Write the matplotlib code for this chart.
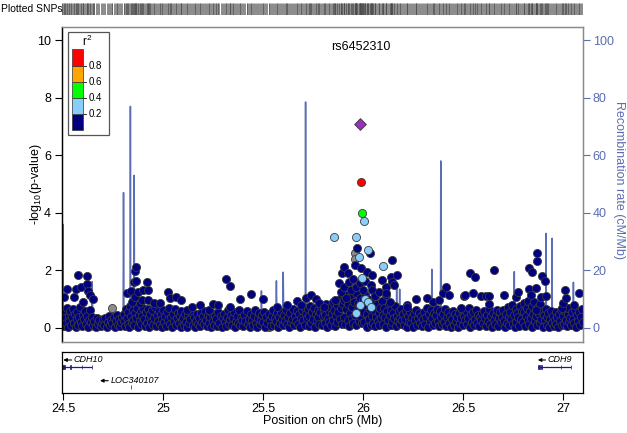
import numpy as np
import matplotlib
matplotlib.use('Agg')
import matplotlib.pyplot as plt
from matplotlib.patches import Rectangle

plt.rcParams['font.family'] = ['Liberation Sans', 'DejaVu Sans']
plt.rcParams['mathtext.default'] = 'regular'

# ---- data (positions in Mb, -log10 p) ----
band_pos = [
    24.489, 24.492, 24.495, 24.498, 24.502, 24.506, 24.509, 24.513, 24.517, 24.521,
    24.526, 24.530, 24.534, 24.539, 24.543, 24.547, 24.552, 24.556, 24.561, 24.566,
    24.570, 24.575, 24.580, 24.584, 24.589, 24.594, 24.598,
    24.603, 24.607, 24.612, 24.617, 24.621, 24.626, 24.631, 24.636, 24.641, 24.648,
    24.655, 24.661, 24.668, 24.674, 24.680, 24.686, 24.692, 24.698,
    24.704, 24.710, 24.716, 24.721, 24.727, 24.733, 24.738, 24.745, 24.751, 24.757,
    24.762, 24.768, 24.774, 24.779, 24.785, 24.790, 24.795,
    24.801, 24.805, 24.809, 24.813, 24.817, 24.821, 24.825, 24.829, 24.833, 24.837,
    24.842, 24.846, 24.850, 24.855, 24.859, 24.863, 24.868, 24.872, 24.877, 24.881,
    24.886, 24.890, 24.895, 24.899,
    24.903, 24.908, 24.912, 24.917, 24.921, 24.926, 24.930, 24.935, 24.940, 24.944,
    24.949, 24.953, 24.958, 24.963, 24.967, 24.972, 24.977, 24.981, 24.986, 24.991, 24.995,
    25.000, 25.005, 25.009, 25.014, 25.019, 25.024, 25.028, 25.033, 25.038, 25.043,
    25.047, 25.052, 25.057, 25.062, 25.066, 25.071, 25.076, 25.081, 25.086, 25.090, 25.095,
    25.100, 25.105, 25.110, 25.115, 25.120, 25.125, 25.130, 25.135, 25.140, 25.146,
    25.151, 25.156, 25.161, 25.167, 25.172, 25.177, 25.183, 25.188, 25.193, 25.198,
    25.203, 25.208, 25.213, 25.218, 25.223, 25.229, 25.234, 25.239, 25.245, 25.250,
    25.255, 25.260, 25.266, 25.271, 25.276, 25.281, 25.287, 25.292, 25.297,
    25.302, 25.307, 25.312, 25.318, 25.323, 25.328, 25.333, 25.338, 25.344, 25.349,
    25.354, 25.359, 25.364, 25.370, 25.375, 25.380, 25.385, 25.391, 25.396,
    25.401, 25.406, 25.411, 25.417, 25.422, 25.427, 25.432, 25.437, 25.443, 25.448,
    25.453, 25.458, 25.464, 25.469, 25.474, 25.479, 25.485, 25.490, 25.495,
    25.500, 25.506, 25.511, 25.516, 25.521, 25.527, 25.532, 25.537, 25.542, 25.548,
    25.553, 25.558, 25.563, 25.569, 25.574, 25.579, 25.584, 25.590, 25.595,
    25.600, 25.605, 25.610, 25.615, 25.620, 25.625, 25.630, 25.635, 25.640, 25.645,
    25.650, 25.655, 25.660, 25.665, 25.670, 25.675, 25.680, 25.685, 25.690, 25.695,
    25.700, 25.704, 25.709, 25.713, 25.718, 25.722, 25.727, 25.731, 25.736, 25.740,
    25.745, 25.749, 25.754, 25.758, 25.763, 25.767, 25.772, 25.776, 25.781, 25.785,
    25.790, 25.794, 25.799,
    25.803, 25.807, 25.811, 25.815, 25.819, 25.823, 25.827, 25.831, 25.835, 25.839,
    25.843, 25.847, 25.851, 25.855, 25.859, 25.863, 25.867, 25.871, 25.875, 25.879,
    25.883, 25.887, 25.891, 25.895, 25.899,
    25.902, 25.906, 25.910, 25.914, 25.918, 25.922, 25.926, 25.930, 25.934, 25.938,
    25.942, 25.946, 25.950, 25.954, 25.958, 25.962, 25.966, 25.970, 25.974, 25.978,
    25.982, 25.986, 25.990, 25.994, 25.998,
    26.002, 26.006, 26.010, 26.014, 26.018, 26.022, 26.026, 26.030, 26.034, 26.038,
    26.042, 26.046, 26.050, 26.054, 26.058, 26.062, 26.066, 26.070, 26.074, 26.078,
    26.082, 26.086, 26.090, 26.094, 26.098,
    26.102, 26.106, 26.111, 26.115, 26.120, 26.124, 26.129, 26.133, 26.138, 26.142,
    26.147, 26.151, 26.156, 26.160, 26.165, 26.169, 26.174, 26.178, 26.183, 26.187,
    26.192, 26.196,
    26.201, 26.206, 26.211, 26.216, 26.221, 26.226, 26.231, 26.236, 26.241, 26.246,
    26.251, 26.256, 26.261, 26.266, 26.271, 26.276, 26.281, 26.286, 26.291, 26.296,
    26.301, 26.306, 26.311, 26.316, 26.321, 26.326, 26.331, 26.336, 26.341, 26.346,
    26.351, 26.356, 26.361, 26.366, 26.371, 26.376, 26.381, 26.386, 26.391, 26.396,
    26.401, 26.406, 26.411, 26.416, 26.421, 26.426, 26.431, 26.436, 26.441, 26.446,
    26.451, 26.456, 26.461, 26.466, 26.471, 26.476, 26.481, 26.486, 26.491, 26.496,
    26.501, 26.506, 26.511, 26.516, 26.521, 26.526, 26.531, 26.536, 26.541, 26.546,
    26.551, 26.556, 26.561, 26.566, 26.571, 26.576, 26.581, 26.586, 26.591, 26.596,
    26.601, 26.606, 26.611, 26.616, 26.621, 26.626, 26.631, 26.636, 26.641, 26.646,
    26.651, 26.656, 26.661, 26.666, 26.671, 26.676, 26.681, 26.686, 26.691, 26.696,
    26.701, 26.705, 26.710, 26.714, 26.719, 26.723, 26.728, 26.732, 26.737, 26.741,
    26.746, 26.750, 26.755, 26.759, 26.764, 26.768, 26.773, 26.777, 26.782, 26.786,
    26.791, 26.795,
    26.800, 26.804, 26.808, 26.812, 26.816, 26.820, 26.824, 26.828, 26.832, 26.836,
    26.840, 26.844, 26.848, 26.852, 26.856, 26.860, 26.864, 26.868, 26.872, 26.876,
    26.880, 26.884, 26.888, 26.892, 26.896,
    26.901, 26.905, 26.910, 26.914, 26.919, 26.923, 26.928, 26.932, 26.937, 26.941,
    26.946, 26.950, 26.955, 26.959, 26.964, 26.968, 26.973, 26.977, 26.982, 26.986,
    26.991, 26.995,
    27.000, 27.005, 27.009, 27.014, 27.019, 27.024, 27.028, 27.033, 27.038, 27.043,
    27.047, 27.052, 27.057, 27.062, 27.066, 27.071, 27.076, 27.081, 27.086, 27.090,
    27.095, 27.100,
]
band_logp = [
    0.45, 0.12, 0.62, 0.28, 0.05, 0.51, 0.33, 0.18, 0.70, 0.02,
    0.41, 0.24, 0.57, 0.09, 0.36, 0.66, 0.15, 0.47, 0.03, 0.29,
    0.55, 0.11, 0.38, 0.72, 0.20, 0.06, 0.44,
    0.31, 0.58, 0.14, 0.42, 0.04, 0.26, 0.63, 0.19, 0.37, 0.08,
    0.22, 0.01, 0.34, 0.13, 0.27, 0.05, 0.18, 0.30,
    0.10, 0.32, 0.02, 0.21, 0.40, 0.08, 0.27, 0.15, 0.36, 0.04,
    0.23, 0.44, 0.11, 0.30, 0.06, 0.19, 0.38,
    0.22, 0.48, 0.07, 0.65, 0.33, 0.14, 0.56, 0.02, 0.74, 0.39,
    0.18, 0.61, 0.27, 0.09, 0.52, 0.35, 0.68, 0.04, 0.45, 0.24,
    0.58, 0.12, 0.41, 0.70,
    0.29, 0.05, 0.53, 0.17, 0.66, 0.38, 0.01, 0.46, 0.21, 0.60,
    0.11, 0.34, 0.72, 0.07, 0.43, 0.25, 0.57, 0.14, 0.49, 0.03, 0.31,
    0.62, 0.19, 0.40, 0.06, 0.55, 0.28, 0.70, 0.13, 0.37, 0.02,
    0.47, 0.23, 0.64, 0.09, 0.33, 0.51, 0.16, 0.42, 0.04, 0.58, 0.26,
    0.35, 0.08, 0.49, 0.21, 0.03, 0.43, 0.15, 0.30, 0.56, 0.10,
    0.38, 0.01, 0.25, 0.47, 0.12, 0.34, 0.05, 0.52, 0.20, 0.40,
    0.14, 0.59, 0.27, 0.06, 0.44, 0.18, 0.36, 0.02, 0.50, 0.23,
    0.11, 0.41, 0.29, 0.07, 0.54, 0.16, 0.39, 0.04, 0.32,
    0.48, 0.21, 0.05, 0.37, 0.60, 0.13, 0.29, 0.45, 0.08, 0.33,
    0.55, 0.02, 0.24, 0.42, 0.17, 0.62, 0.10, 0.35, 0.27,
    0.06, 0.43, 0.22, 0.57, 0.14, 0.31, 0.01, 0.48, 0.26, 0.09,
    0.39, 0.63, 0.18, 0.04, 0.35, 0.52, 0.12, 0.28, 0.45,
    0.20, 0.56, 0.03, 0.37, 0.15, 0.47, 0.28, 0.07, 0.41, 0.60,
    0.11, 0.33, 0.23, 0.50, 0.02, 0.38, 0.17, 0.54, 0.30,
    0.09, 0.44, 0.25, 0.61, 0.13, 0.36, 0.04, 0.52, 0.19, 0.31,
    0.66, 0.08, 0.40, 0.22, 0.57, 0.14, 0.47, 0.02, 0.35, 0.60,
    0.27, 0.71, 0.11, 0.49, 0.33, 0.64, 0.05, 0.42, 0.76, 0.18,
    0.55, 0.29, 0.68, 0.02, 0.46, 0.22, 0.60, 0.37, 0.12, 0.53,
    0.74, 0.08, 0.40,
    0.63, 0.16, 0.45, 0.81, 0.03, 0.34, 0.58, 0.21, 0.72, 0.10,
    0.49, 0.88, 0.27, 0.61, 0.06, 0.40, 0.79, 0.19, 0.54, 0.95,
    0.31, 0.67, 1.02, 0.13, 0.84,
    0.38, 0.97, 0.12, 0.64, 1.15, 0.26, 0.81, 0.05, 0.52, 1.08,
    0.33, 0.73, 0.18, 0.91, 0.44, 1.21, 0.09, 0.59, 0.86, 0.24,
    1.05, 0.40, 0.69, 0.15, 0.95,
    0.55, 0.21, 1.12, 0.78, 0.03, 0.47, 1.01, 0.30, 0.66, 0.11,
    0.89, 0.42, 0.17, 0.73, 0.58, 0.06, 0.36, 0.84, 0.23, 0.51,
    0.10, 0.68, 0.32, 0.92, 0.45,
    0.14, 0.70, 0.37, 0.02, 0.59, 0.26, 0.81, 0.45, 0.08, 0.63,
    0.19, 0.50, 0.33, 0.74, 0.05, 0.41, 0.22, 0.57, 0.12, 0.35,
    0.66, 0.28,
    0.48, 0.10, 0.31, 0.58, 0.04, 0.40, 0.21, 0.53, 0.15, 0.36,
    0.01, 0.46, 0.27, 0.62, 0.09, 0.33, 0.51, 0.18, 0.42, 0.06,
    0.29, 0.55, 0.13, 0.38, 0.70, 0.03, 0.47, 0.22, 0.61, 0.34,
    0.08, 0.52, 0.17, 0.43, 0.66, 0.25, 0.05, 0.58, 0.36, 0.12,
    0.49, 0.20, 0.64, 0.07, 0.37, 0.55, 0.15, 0.42, 0.02, 0.30,
    0.59, 0.11, 0.46, 0.24, 0.38, 0.04, 0.52, 0.17, 0.33, 0.61,
    0.08, 0.41, 0.26, 0.57, 0.13, 0.35, 0.68, 0.03, 0.47, 0.21,
    0.54, 0.10, 0.31, 0.62, 0.18, 0.44, 0.06, 0.38, 0.27, 0.50,
    0.16, 0.59, 0.34, 0.05, 0.45, 0.23, 0.66, 0.12, 0.39, 0.01,
    0.51, 0.28, 0.14, 0.43, 0.60, 0.07, 0.32, 0.55, 0.20, 0.37,
    0.62, 0.25, 0.04, 0.48, 0.17, 0.71, 0.36, 0.09, 0.55, 0.29,
    0.80, 0.13, 0.44, 0.02, 0.66, 0.21, 0.52, 0.38, 0.07, 0.74,
    0.31, 0.58,
    0.19, 0.53, 0.85, 0.06, 0.41, 0.67, 0.27, 0.93, 0.12, 0.58,
    0.34, 0.76, 0.02, 0.49, 0.88, 0.22, 0.63, 0.39, 0.09, 0.71,
    0.46, 0.16, 0.82, 0.30, 0.57,
    0.04, 0.44, 0.26, 0.65, 0.11, 0.37, 0.52, 0.01, 0.31, 0.59,
    0.18, 0.42, 0.07, 0.28, 0.54, 0.14, 0.36, 0.03, 0.47, 0.22,
    0.61, 0.10,
    0.39, 0.13, 0.57, 0.27, 0.05, 0.48, 0.70, 0.20, 0.35, 0.09,
    0.53, 0.31, 0.16, 0.62, 0.02, 0.44, 0.24, 0.56, 0.11, 0.38,
    0.66, 0.19,
]

# r2 < 0.2 SNPs standing above the band
high_pos = [24.504, 24.518, 24.554, 24.561, 24.571, 24.588, 24.599, 24.616, 24.619, 24.624,
            24.634, 24.646, 24.819, 24.839, 24.842, 24.854, 24.859, 24.859, 24.864, 24.864,
            24.875, 24.884, 24.895, 24.900, 24.917, 24.922, 24.925, 24.951, 24.984, 25.023,
            25.031, 25.063, 25.086, 25.118, 25.143, 25.185, 25.227, 25.249, 25.272, 25.315,
            25.332, 25.335, 25.384, 25.437, 25.498, 25.570, 25.620, 25.667, 25.687, 25.712,
            25.740, 25.762, 25.778, 25.804, 25.859, 25.879, 25.887, 25.896, 25.904, 25.905,
            25.915, 25.926, 25.929, 25.940, 25.950, 25.957, 25.963, 25.971, 25.985, 25.991,
            26.000, 26.010, 26.021, 26.034, 26.038, 26.046, 26.046, 26.060, 26.080, 26.096,
            26.113, 26.113, 26.113, 26.133, 26.138, 26.143, 26.146, 26.155, 26.170, 26.219,
            26.222, 26.264, 26.322, 26.350, 26.380, 26.400, 26.417, 26.430, 26.489, 26.506,
            26.511, 26.535, 26.551, 26.558, 26.590, 26.615, 26.631, 26.631, 26.657, 26.707,
            26.765, 26.774, 26.832, 26.832, 26.840, 26.846, 26.866, 26.866, 26.869, 26.869,
            26.891, 26.896, 26.912, 26.916, 26.996, 27.003, 27.010, 27.016, 27.058, 27.083]
high_logp = [1.08, 1.34, 1.06, 1.34, 1.83, 1.40, 0.88, 1.51, 1.79, 1.29,
             1.14, 1.01, 1.20, 1.29, 0.90, 1.58, 1.98, 1.08, 2.10, 1.64,
             1.23, 0.85, 0.96, 1.31, 1.60, 1.31, 0.96, 0.85, 0.85, 1.25,
             1.02, 1.08, 0.96, 0.62, 0.71, 0.78, 0.62, 0.81, 0.78, 1.68,
             1.45, 0.73, 0.99, 1.17, 0.99, 0.73, 0.79, 0.92, 0.79, 1.02,
             1.14, 0.99, 0.85, 0.73, 0.96, 1.54, 1.25, 1.89, 2.12, 1.40,
             1.05, 1.89, 1.60, 1.30, 1.70, 2.18, 1.43, 2.76, 1.55, 2.07,
             1.30, 1.62, 1.95, 2.61, 1.49, 1.83, 1.31, 1.10, 1.25, 1.66,
             1.43, 1.14, 1.20, 0.90, 1.77, 2.35, 1.60, 1.49, 1.83, 0.79,
             0.73, 1.00, 1.02, 0.90, 0.96, 1.20, 1.40, 1.14, 0.67, 1.10,
             1.14, 1.89, 1.22, 1.77, 1.10, 1.10, 1.10, 0.82, 2.01, 1.14,
             1.08, 1.25, 2.07, 1.34, 1.14, 1.95, 1.37, 0.62, 2.61, 2.33,
             1.08, 1.80, 1.64, 1.10, 0.67, 0.85, 1.31, 1.02, 0.79, 1.22]

# SNPs without LD information (grey)
na_pos = [24.536, 24.598, 24.655, 24.742, 24.770, 24.812, 24.935, 25.040, 25.158, 25.262,
          25.349, 25.421, 25.530, 25.612, 25.736, 25.857, 25.957, 25.957, 26.050, 26.142,
          26.263, 26.356, 26.468, 26.572, 26.689, 26.804, 26.927, 27.041]
na_logp = [0.18, 0.33, 0.06, 0.67, 0.21, 0.40, 0.15, 0.28, 0.09, 0.35,
           0.12, 0.25, 0.04, 0.31, 0.20, 0.52, 2.61, 2.38, 0.26, 0.11,
           0.19, 0.30, 0.07, 0.23, 0.14, 0.37, 0.17, 0.08]

# 0.2 <= r2 < 0.4
lb_pos = [25.856, 25.964, 26.004, 26.024, 25.979, 26.101, 25.996, 26.011, 26.023, 25.983, 26.041, 25.963]
lb_logp = [3.17, 3.14, 3.72, 2.69, 2.47, 2.15, 1.72, 0.99, 0.90, 0.79, 0.73, 0.50]

green_pos, green_logp = [25.994], [4.00]
red_pos, red_logp = [25.989], [5.07]
lead_snp = 'rs6452310'
lead_pos, lead_logp = 25.983, 7.10

# recombination rate (cM/Mb)
rec_pos = [24.487, 24.493, 24.4965, 24.4985, 24.505, 24.52, 24.54, 24.56, 24.58, 24.60,
           24.62, 24.640, 24.6435, 24.647, 24.67, 24.70, 24.72, 24.745, 24.748, 24.751,
           24.77, 24.79, 24.7985, 24.8005, 24.803, 24.815, 24.8335, 24.835, 24.8365, 24.845,
           24.8525, 24.854, 24.8555, 24.87, 24.90, 24.95, 25.00, 25.05, 25.10, 25.15,
           25.20, 25.25, 25.30, 25.35, 25.40, 25.45, 25.488, 25.491, 25.494, 25.53,
           25.563, 25.566, 25.569, 25.597, 25.600, 25.603, 25.65, 25.70, 25.7105, 25.712,
           25.7135, 25.75, 25.80, 25.85, 25.90, 25.95, 26.00, 26.05, 26.10, 26.14,
           26.1665, 26.168, 26.1695, 26.175, 26.1815, 26.183, 26.1845, 26.22, 26.26, 26.30,
           26.3425, 26.344, 26.3455, 26.3875, 26.389, 26.3905, 26.43, 26.47, 26.52, 26.57,
           26.62, 26.67, 26.72, 26.7555, 26.757, 26.7585, 26.80, 26.85, 26.9145, 26.916,
           26.9175, 26.93, 26.9445, 26.946, 26.9475, 26.98, 27.02, 27.0515, 27.053, 27.0545,
           27.08, 27.101]
rec_rate = [3, 2, 36, 2, 1.5, 1, 2.5, 1, 3, 1.5,
            2, 1, 16, 1, 0.5, 0.4, 0.8, 1, 7, 1,
            0.6, 1.5, 2, 47, 3, 4, 5, 77, 5, 3,
            4, 53, 3, 1.5, 0.8, 0.5, 0.4, 0.6, 0.3, 0.5,
            0.4, 0.7, 0.5, 1.0, 0.6, 0.8, 1, 12.8, 1, 1.5,
            2, 16.3, 2, 2, 19.3, 2, 1.5, 2, 3, 78.5,
            3, 1, 0.8, 0.5, 0.4, 0.5, 0.6, 0.8, 1.2, 2,
            3, 16, 3, 2, 3, 13.4, 2, 1, 0.8, 1.2,
            2, 20.3, 2, 3, 58, 3, 1.5, 0.8, 0.6, 0.5,
            0.7, 0.9, 1.2, 2, 19.5, 2, 1.5, 1.2, 3, 32.8,
            3, 2, 3, 31.1, 3, 2, 1.5, 2, 15.8, 2,
            1.2, 1]

# genes
gene_names = ['CDH10', 'LOC340107', 'CDH9']
gene_start = [24.487, 24.837, 26.877]
gene_end = [24.645, 24.839, 27.043]
gene_row = [366.7, 387.0, 366.7]
gene_label_row = [360.0, 380.7, 360.0]
gene_arrow = [(24.541, 24.499), (24.724, 24.683), (26.913, 26.875)]
gene_exons = [[(24.487, 24.497), (24.500, 24.506), (24.534, 24.537), (24.593, 24.595), (24.643, 24.645)],
              [(24.837, 24.839)],
              [(26.877, 26.887), (26.889, 26.896), (26.989, 26.991), (27.041, 27.043)]]

r2_levels = ['0.2', '0.4', '0.6', '0.8']
r2_colors = ['#000080', '#87CEFA', '#00FF00', '#FFA500', '#FF0000']

# ---- figure ----
W, H = 627, 433
fig = plt.figure(figsize=(W / 100, H / 100), dpi=100)


def box(l, t, r, b):
    return [l / W, 1 - b / H, (r - l) / W, (b - t) / H]


XL = (24.4925, 27.101)
rec_col = '#5b6db3'
frame_col = '#8a8a8a'

ax = fig.add_axes(box(62, 27, 583, 341.6))
ax2 = ax.twinx()
ax.set_zorder(ax2.get_zorder() + 1)
ax.patch.set_visible(False)

ax2.plot(rec_pos, rec_rate, color=rec_col, lw=1.1)
ax2.set_ylim(-4.835, 104.59)
ax2.set_yticks([0, 20, 40, 60, 80, 100])
ax2.tick_params(axis='y', colors=rec_col, labelsize=9, length=5, width=0.8, pad=2)

kw = dict(s=34, linewidths=0.6, edgecolors='#3a3a3a')
ax.scatter(na_pos, na_logp, c='#8c8c8c', **kw)
ax.scatter(band_pos, band_logp, c=r2_colors[0], **kw)
ax.scatter(high_pos, high_logp, c=r2_colors[0], **kw)
ax.scatter(lb_pos, lb_logp, c=r2_colors[1], **kw)
ax.scatter(green_pos, green_logp, c=r2_colors[2], **kw)
ax.scatter(red_pos, red_logp, c=r2_colors[4], **kw)
ax.scatter([lead_pos], [lead_logp], marker='D', s=36, c='#9632B8', linewidths=0.6, edgecolors='#3a3a3a')
ax.text(lead_pos + 0.006, 9.76, lead_snp, ha='center', va='center', fontsize=9)

ax.set_xlim(XL)
ax2.set_xlim(XL)
ax.set_ylim(-0.4835, 10.459)
ax.set_xticks([])
ax.set_yticks([0, 2, 4, 6, 8, 10])
ax.tick_params(axis='y', labelsize=9, length=5, width=0.8, pad=3)
for a in (ax, ax2):
    for s in a.spines.values():
        s.set_color(frame_col)
        s.set_linewidth(0.9)
ax.spines['left'].set_color('black')
ax2.spines['left'].set_color('black')

fig.text(36 / W, 1 - 184 / H, r'-log$_{10}$(p-value)', rotation=90, ha='center', va='center', fontsize=9)
fig.text(619 / W, 1 - 180 / H, 'Recombination rate (cM/Mb)', rotation=-90, ha='center', va='center',
         fontsize=9, color=rec_col)

# r2 legend
lg = fig.add_axes(box(67, 31, 110, 136))
lg.set_xlim(67, 110)
lg.set_ylim(136, 31)
lg.axis('off')
lg.add_patch(Rectangle((67.6, 31.6), 41.8, 103.8, fill=False, ec='#555555', lw=0.9, clip_on=False))
edges = [130, 114, 98, 82, 66, 49]
for i, col in enumerate(r2_colors):
    lg.add_patch(Rectangle((72, edges[i + 1]), 11, edges[i] - edges[i + 1], fc=col, ec='#333333', lw=0.5))
for i, lab in enumerate(r2_levels):
    yy = edges[i + 1]
    lg.plot([83, 86], [yy, yy], color='#333333', lw=0.7)
    lg.text(89, yy, lab, va='center', ha='left', fontsize=7)
lg.text(87, 41, r'r$^2$', ha='center', va='center', fontsize=8.5)

# plotted SNPs strip
sx = fig.add_axes(box(62, 3, 583, 15))
sx.set_xlim(XL)
sx.set_ylim(0, 1)
sx.axis('off')
all_pos = band_pos + high_pos + na_pos + lb_pos + green_pos + red_pos + [lead_pos]
sx.vlines(all_pos, 0, 1, color='#4a4a4a', lw=0.45)
fig.text(1 / W, 1 - 9 / H, 'Plotted SNPs', ha='left', va='center', fontsize=7.5)

# gene panel
gx = fig.add_axes(box(62, 352, 583, 393))
gx.set_xlim(XL)
gx.set_ylim(393, 352)
gx.set_yticks([])
gx.set_xticks([24.5, 25, 25.5, 26, 26.5, 27])
gx.set_xticklabels(['24.5', '25', '25.5', '26', '26.5', '27'])
gx.tick_params(axis='x', labelsize=9, length=5, width=0.8, pad=2)
for s in gx.spines.values():
    s.set_linewidth(0.9)
gene_col = '#1a1a8c'
for name, gs, ge, gy, ly, arr, exons in zip(gene_names, gene_start, gene_end, gene_row,
                                             gene_label_row, gene_arrow, gene_exons):
    gx.plot([gs, ge], [gy, gy], color=gene_col, lw=0.9, solid_capstyle='butt')
    for e0, e1 in exons:
        gx.add_patch(Rectangle((e0, gy - 2), e1 - e0, 4, fc=gene_col, ec=gene_col, lw=0.5))
    gx.annotate('', xy=(arr[1], ly), xytext=(arr[0], ly),
                arrowprops=dict(arrowstyle='-|>', color='black', lw=0.8, mutation_scale=5,
                                shrinkA=0, shrinkB=0))
    gx.text(arr[0] + 0.01, ly, name, fontsize=6.5, style='italic', ha='left', va='center')

fig.text(323 / W, 1 - 421 / H, 'Position on chr5 (Mb)', ha='center', va='center', fontsize=9)

fig.savefig('out.png', dpi=100)
